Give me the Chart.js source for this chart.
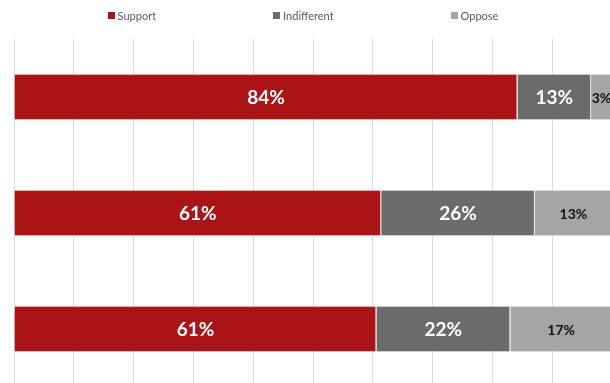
<!DOCTYPE html>
<html>
<head>
<meta charset="utf-8">
<script src="https://cdn.jsdelivr.net/npm/chart.js@4"></script>
<style>
  html, body { margin: 0; padding: 0; background: #fff; overflow: hidden; }
  #wrap { position: relative; width: 612px; height: 387px; }
</style>
</head>
<body>
<div id="wrap"><canvas id="opinionChart"></canvas></div>
<script>
/* ================================
   Data
================================ */
const categories = ["Question 1", "Question 2", "Question 3"];
const seriesNames = ["Support", "Indifferent", "Oppose"];
// bar lengths (percent of respondents)
const supportVals = [84.2, 61.4, 60.6];
const indifferentVals = [12.3, 25.7, 22.4];
const opposeVals = [3.5, 12.9, 17.0];
// labels printed on the bars
const supportLabels = ["84%", "61%", "61%"];
const indifferentLabels = ["13%", "26%", "22%"];
const opposeLabels = ["3%", "13%", "17%"];
const seriesColors = ["#ab1416", "#6b6b6b", "#a5a5a5"];
const xTicks = [0, 10, 20, 30, 40, 50, 60, 70, 80, 90, 100];

/* ================================
   Legend drawn across the top
================================ */
const topLegend = {
  id: "topLegend",
  afterDraw(chart) {
    const ctx = chart.ctx;
    const box = 7, gap = 3, spacing = 117;
    ctx.save();
    ctx.font = "11px Lato, 'Liberation Sans', sans-serif";
    ctx.textBaseline = "middle";
    const items = chart.data.datasets.map(ds => ({
      label: ds.label,
      color: ds.backgroundColor,
      w: box + gap + ctx.measureText(ds.label).width
    }));
    const total = items.reduce((s, it) => s + it.w, 0) + spacing * (items.length - 1);
    let x = 303 - total / 2;
    const y = 16;
    items.forEach(it => {
      ctx.fillStyle = it.color;
      ctx.fillRect(Math.round(x), y - 4, box, box);
      ctx.fillStyle = "#595959";
      ctx.textAlign = "left";
      ctx.fillText(it.label, x + box + gap, y);
      x += it.w + spacing;
    });
    ctx.restore();
  }
};

/* ================================
   Value labels inside the bars
================================ */
const labelLists = [supportLabels, indifferentLabels, opposeLabels];

const barLabels = {
  id: "barLabels",
  afterDatasetsDraw(chart) {
    const ctx = chart.ctx;
    ctx.save();
    ctx.textAlign = "center";
    ctx.textBaseline = "middle";
    chart.data.datasets.forEach((ds, i) => {
      const meta = chart.getDatasetMeta(i);
      const light = i === 2;
      ctx.fillStyle = light ? "#111111" : "#ffffff";
      ctx.font = light
        ? "bold 14px Lato, 'Liberation Sans', sans-serif"
        : "bold 19px Lato, 'Liberation Sans', sans-serif";
      meta.data.forEach((bar, j) => {
        const cx = (bar.x + bar.base) / 2;
        ctx.fillText(labelLists[i][j], cx, bar.y + 1);
      });
    });
    ctx.restore();
  }
};

/* ================================
   Chart
================================ */
const valueLists = [supportVals, indifferentVals, opposeVals];

new Chart(document.getElementById("opinionChart"), {
  type: "bar",
  data: {
    labels: categories,
    datasets: seriesNames.map((name, i) => ({
      label: name,
      data: valueLists[i],
      backgroundColor: seriesColors[i],
      borderColor: "#e4e4e4",
      borderWidth: 1,
      barPercentage: 0.4,
      categoryPercentage: 1
    }))
  },
  options: {
    indexAxis: "y",
    responsive: true,
    maintainAspectRatio: false,
    animation: false,
    layout: { padding: { left: 14, right: 0, top: 39, bottom: 0 } },
    plugins: {
      legend: { display: false },
      tooltip: { enabled: false }
    },
    scales: {
      x: {
        stacked: true,
        min: 0,
        max: 100,
        afterBuildTicks: axis => {
          axis.ticks = xTicks.map(v => ({ value: v }));
        },
        ticks: { display: false },
        border: { display: false },
        grid: { color: "#d9d9d9", lineWidth: 1, drawTicks: false }
      },
      y: {
        stacked: true,
        display: false
      }
    }
  },
  plugins: [topLegend, barLabels]
});
</script>
</body>
</html>
